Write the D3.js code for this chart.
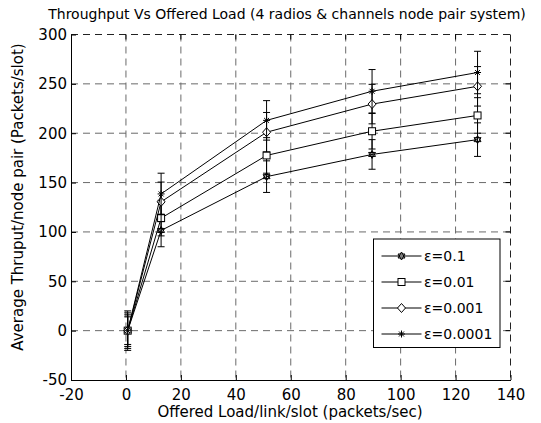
<!DOCTYPE html>
<html>
<head>
<meta charset="utf-8">
<script src="https://cdn.jsdelivr.net/npm/d3@7"></script>
<style>
  body { margin: 0; background: #fff; }
  svg text { font-family: "Comic Sans MS", "DejaVu Sans", sans-serif; fill: #000; }
</style>
</head>
<body>
<svg id="chart" width="541" height="423"></svg>
<script>
// 数据
const loads = [0.64, 12.8, 51.2, 89.6, 128];
const seriesNames = ['ε=0.1', 'ε=0.01', 'ε=0.001', 'ε=0.0001'];
const markers = ['hexagram', 'square', 'diamond', 'asterisk'];
const thru01 = [0, 101.5, 156, 178.5, 193.5];
const thru001 = [0, 114, 177.5, 202, 218];
const thru0001 = [0, 130.5, 201, 229.5, 247.5];
const thru00001 = [0, 138.5, 213, 242.5, 261.5];
const err01 = [14, 16.5, 16, 15, 17];
const err001 = [16, 18, 18, 18, 18];
const err0001 = [18, 20, 20, 20, 20];
const err00001 = [20, 21, 20, 22, 21.5];
const xTicks = [-20, 0, 20, 40, 60, 80, 100, 120, 140];
const yTicks = [-50, 0, 50, 100, 150, 200, 250, 300];

(function() {
  const values = [thru01, thru001, thru0001, thru00001];
  const errors = [err01, err001, err0001, err00001];

  const svg = d3.select('#chart');
  const left = 71, right = 510.5, top = 34.5, bottom = 380;

  const x = d3.scaleLinear().domain([-20, 140]).range([left, right]);
  const y = d3.scaleLinear().domain([-50, 300]).range([bottom, top]);

  // 网格
  const grid = svg.append('g')
    .attr('stroke', '#6a6a6a')
    .attr('stroke-width', 1)
    .attr('stroke-dasharray', '7,5');
  xTicks.slice(1, -1).forEach(t => {
    grid.append('line').attr('x1', x(t)).attr('x2', x(t)).attr('y1', top).attr('y2', bottom);
  });
  yTicks.slice(1, -1).forEach(t => {
    grid.append('line').attr('x1', left).attr('x2', right).attr('y1', y(t)).attr('y2', y(t));
  });

  // 上、右边框（虚线）
  const frame = svg.append('g').attr('stroke', '#222').attr('stroke-dasharray', '7,5');
  frame.append('line').attr('x1', left).attr('x2', right).attr('y1', top).attr('y2', top);
  frame.append('line').attr('x1', right).attr('x2', right).attr('y1', top).attr('y2', bottom);

  // 坐标轴（用普通连字符作负号）
  const fmt = d => String(d);
  const xAxis = d3.axisBottom(x).tickValues(xTicks).tickFormat(fmt).tickSizeInner(-5).tickSizeOuter(0).tickPadding(9);
  const yAxis = d3.axisLeft(y).tickValues(yTicks).tickFormat(fmt).tickSizeInner(-5).tickSizeOuter(0).tickPadding(9);

  const gx = svg.append('g').attr('transform', `translate(0,${bottom})`).call(xAxis);
  const gy = svg.append('g').attr('transform', `translate(${left},0)`).call(yAxis);
  [gx, gy].forEach(g => {
    g.select('.domain').attr('stroke', '#000');
    g.selectAll('.tick line').attr('stroke', '#000');
    g.selectAll('.tick text').style('font-size', '15px').attr('fill', '#000');
  });
  gx.selectAll('.tick text').attr('dy', '0.7em');
  gy.selectAll('.tick text').attr('dx', '5px');

  // 顶部与右侧刻度
  const innerTicks = svg.append('g').attr('stroke', '#000');
  xTicks.slice(1, -1).forEach(t => {
    innerTicks.append('line').attr('x1', x(t)).attr('x2', x(t)).attr('y1', top).attr('y2', top + 5);
  });
  yTicks.slice(1, -1).forEach(t => {
    innerTicks.append('line').attr('x1', right - 5).attr('x2', right).attr('y1', y(t)).attr('y2', y(t));
  });

  // 标记符号
  function drawMarker(g, type, cx, cy) {
    if (type === 'square') {
      g.append('rect').attr('x', cx - 3.5).attr('y', cy - 3.5).attr('width', 7).attr('height', 7)
        .attr('fill', '#fff').attr('stroke', '#000');
    } else if (type === 'diamond') {
      g.append('path').attr('d', `M${cx},${cy - 4.5}L${cx + 4},${cy}L${cx},${cy + 4.5}L${cx - 4},${cy}Z`)
        .attr('fill', '#fff').attr('stroke', '#000');
    } else if (type === 'hexagram') {
      const r = 4;
      const tri = a => d3.range(3).map(i => {
        const ang = a + i * 2 * Math.PI / 3;
        return [cx + r * Math.sin(ang), cy - r * Math.cos(ang)];
      });
      g.append('path').attr('d', 'M' + tri(0).join('L') + 'Z').attr('fill', 'none').attr('stroke', '#000');
      g.append('path').attr('d', 'M' + tri(Math.PI).join('L') + 'Z').attr('fill', 'none').attr('stroke', '#000');
    } else {
      const r = 3.5;
      [0, 45, 90, 135].forEach(deg => {
        const a = deg * Math.PI / 180;
        g.append('line')
          .attr('x1', cx - r * Math.cos(a)).attr('y1', cy - r * Math.sin(a))
          .attr('x2', cx + r * Math.cos(a)).attr('y2', cy + r * Math.sin(a))
          .attr('stroke', '#000');
      });
    }
  }

  const line = d3.line().x((d, i) => x(loads[i])).y(d => y(d));
  const plot = svg.append('g');

  values.forEach((vals, s) => {
    const g = plot.append('g');
    // 误差棒
    vals.forEach((v, i) => {
      const e = errors[s][i];
      const cx = x(loads[i]);
      g.append('line').attr('x1', cx).attr('x2', cx).attr('y1', y(v - e)).attr('y2', y(v + e))
        .attr('stroke', '#000');
      [v - e, v + e].forEach(c => {
        g.append('line').attr('x1', cx - 3.5).attr('x2', cx + 3.5).attr('y1', y(c)).attr('y2', y(c))
          .attr('stroke', '#000');
      });
    });
    g.append('path').datum(vals).attr('d', line).attr('fill', 'none').attr('stroke', '#000');
    vals.forEach((v, i) => drawMarker(g, markers[s], x(loads[i]), y(v)));
  });

  // 图例
  const lg = svg.append('g');
  lg.append('rect').attr('x', 373.5).attr('y', 239).attr('width', 126.5).attr('height', 108.5)
    .attr('fill', '#fff').attr('stroke', '#000');
  seriesNames.forEach((name, i) => {
    const ly = 256 + i * 26;
    lg.append('line').attr('x1', 381.5).attr('x2', 421.5).attr('y1', ly).attr('y2', ly).attr('stroke', '#000');
    drawMarker(lg, markers[i], 401.5, ly);
    lg.append('text').attr('x', 424).attr('y', ly + 5).style('font-size', '14px').text(name);
  });

  // 标题与轴标签
  svg.append('text').attr('x', 287).attr('y', 19).attr('text-anchor', 'middle')
    .style('font-size', '14px')
    .text('Throughput Vs Offered Load (4 radios & channels node pair system)');
  svg.append('text').attr('x', 290).attr('y', 417).attr('text-anchor', 'middle')
    .style('font-size', '15px')
    .text('Offered Load/link/slot (packets/sec)');
  svg.append('text').attr('transform', 'translate(23,197) rotate(-90)').attr('text-anchor', 'middle')
    .style('font-size', '15px')
    .text('Average Thruput/node pair (Packets/slot)');
})();
</script>
</body>
</html>
